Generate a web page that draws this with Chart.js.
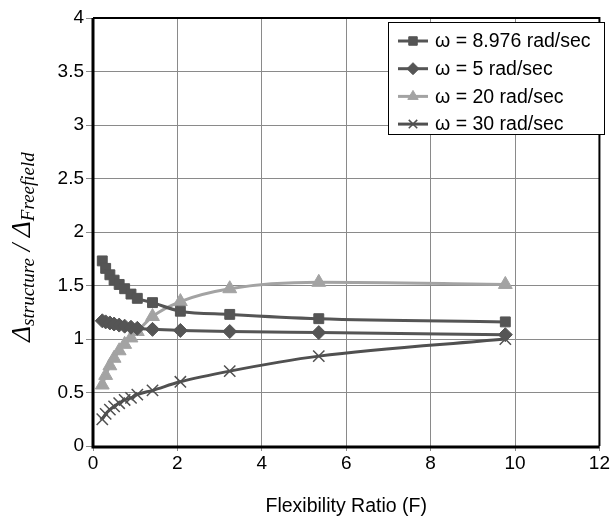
<!DOCTYPE html>
<html><head><meta charset="utf-8">
<script src="https://cdn.jsdelivr.net/npm/chart.js@4.4.1/dist/chart.umd.min.js"></script>
<style>html,body{margin:0;padding:0;background:#fff}#wrap{width:611px;height:519px}</style>
</head><body><div id="wrap"><canvas id="c" width="611" height="519"></canvas></div>
<script>
const flex = [0.22, 0.3, 0.4, 0.5, 0.62, 0.75, 0.9, 1.05, 1.41, 2.07, 3.24, 5.35, 9.77];
const w8976 = [1.73, 1.66, 1.60, 1.55, 1.51, 1.47, 1.42, 1.38, 1.34, 1.26, 1.23, 1.19, 1.16];
const w5 = [1.17, 1.16, 1.15, 1.14, 1.13, 1.12, 1.11, 1.10, 1.09, 1.08, 1.07, 1.06, 1.04];
const w20 = [0.57, 0.66, 0.75, 0.82, 0.89, 0.95, 1.01, 1.07, 1.21, 1.35, 1.47, 1.53, 1.51];
const w30 = [0.25, 0.30, 0.34, 0.37, 0.40, 0.43, 0.45, 0.48, 0.52, 0.60, 0.70, 0.84, 1.00];
const seriesNames = ['\u03C9 = 8.976 rad/sec', '\u03C9 = 5 rad/sec', '\u03C9 = 20 rad/sec', '\u03C9 = 30 rad/sec'];
const xTitle = 'Flexibility Ratio (F)';
const FONT = '"Liberation Sans", Arial, sans-serif';

const pts = v => flex.map((x, i) => ({x: x, y: v[i]}));
const styles = [
  {c: '#555555', s: 'rect', r: 7},
  {c: '#555555', s: 'rectRot', r: 7},
  {c: '#a3a3a3', s: 'triangle', r: 8},
  {c: '#505050', s: 'crossRot', r: 8}
];
const vals = [w8976, w5, w20, w30];
const datasets = vals.map((v, i) => ({
  label: seriesNames[i],
  data: pts(v),
  borderColor: styles[i].c,
  backgroundColor: styles[i].c,
  pointBackgroundColor: styles[i].c,
  pointBorderColor: styles[i].c,
  pointStyle: styles[i].s,
  pointRadius: styles[i].r,
  pointBorderWidth: i === 3 ? 1.5 : 1,
  borderWidth: 3,
  cubicInterpolationMode: 'monotone',
  fill: false
}));

const framePlugin = {
  id: 'frame',
  afterDraw(chart) {
    const {ctx, chartArea: a} = chart;
    ctx.save();
    ctx.strokeStyle = '#000';
    ctx.lineWidth = 2;
    ctx.beginPath();
    ctx.moveTo(a.left, a.top); ctx.lineTo(a.right, a.top); ctx.lineTo(a.right, a.bottom);
    ctx.stroke();
    ctx.lineWidth = 3;
    ctx.beginPath();
    ctx.moveTo(a.left, a.top); ctx.lineTo(a.left, a.bottom + 1); ctx.lineTo(a.right, a.bottom + 1);
    ctx.stroke();
    // legend
    const lx = 388, ly = 22, lw = 216, lh = 112;
    ctx.fillStyle = '#fff';
    ctx.fillRect(lx, ly, lw, lh);
    ctx.strokeStyle = '#000';
    ctx.lineWidth = 1;
    ctx.strokeRect(lx + 0.5, ly + 0.5, lw, lh);
    chart.data.datasets.forEach((d, i) => {
      const y = 41 + i * 27.7;
      ctx.strokeStyle = d.borderColor;
      ctx.lineWidth = 3;
      ctx.beginPath(); ctx.moveTo(398, y); ctx.lineTo(428, y); ctx.stroke();
      ctx.fillStyle = d.borderColor;
      ctx.strokeStyle = d.borderColor;
      ctx.lineWidth = d.pointBorderWidth;
      Chart.helpers.drawPoint(ctx, {pointStyle: d.pointStyle, radius: 6, rotation: 0, borderWidth: d.pointBorderWidth}, 413, y);
      ctx.fillStyle = '#000';
      ctx.font = '19.5px ' + FONT;
      ctx.textBaseline = 'middle';
      ctx.textAlign = 'left';
      ctx.fillText(d.label, 435, y + 1);
    });
    // y title
    ctx.save();
    ctx.translate(30, 247);
    ctx.rotate(-Math.PI / 2);
    ctx.fillStyle = '#000';
    ctx.textBaseline = 'alphabetic';
    const parts = [
      {t: '\u0394', f: 'italic 27px "Liberation Serif", serif', dy: 0},
      {t: 'structure', f: 'italic 19px "Liberation Serif", serif', dy: 4},
      {t: ' / ', f: 'italic 27px "Liberation Serif", serif', dy: 0},
      {t: '\u0394', f: 'italic 27px "Liberation Serif", serif', dy: 0},
      {t: 'Freefield', f: 'italic 19px "Liberation Serif", serif', dy: 4}
    ];
    let total = 0;
    parts.forEach(p => { ctx.font = p.f; p.w = ctx.measureText(p.t).width; total += p.w; });
    let x = -total / 2;
    parts.forEach(p => { ctx.font = p.f; ctx.textAlign = 'left'; ctx.fillText(p.t, x, p.dy); x += p.w; });
    ctx.restore();
    ctx.restore();
  }
};

new Chart(document.getElementById('c'), {
  type: 'line',
  data: {datasets: datasets},
  options: {
    responsive: false,
    animation: false,
    layout: {padding: {top: 18, right: 5, left: 0, bottom: 0}},
    plugins: {legend: {display: false}, tooltip: {enabled: false}},
    scales: {
      x: {
        type: 'linear', min: 0, max: 12,
        ticks: {stepSize: 2, color: '#000', font: {size: 19, family: FONT}, padding: 1, maxRotation: 0},
        grid: {color: '#8a8a8a', lineWidth: 1, tickLength: 5, drawTicks: true},
        border: {display: false},
        title: {display: true, text: xTitle, color: '#000', font: {size: 19.5, family: FONT}, padding: {top: 4, bottom: 1}},
        afterFit(s) { s.height = 73; }
      },
      y: {
        min: 0, max: 4,
        ticks: {stepSize: 0.5, color: '#000', font: {size: 19, family: FONT}, padding: 2, callback: v => String(v)},
        grid: {color: '#8a8a8a', lineWidth: 1, tickLength: 7, drawTicks: true},
        border: {display: false},
        afterFit(s) { s.width = 93; }
      }
    }
  },
  plugins: [framePlugin]
});
</script></body></html>
